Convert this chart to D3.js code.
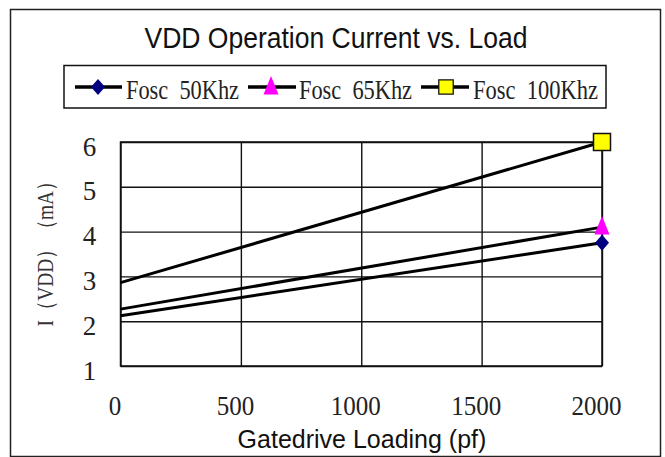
<!DOCTYPE html>
<html>
<head>
<meta charset="utf-8">
<script src="https://cdn.jsdelivr.net/npm/d3@7"></script>
<style>
  html, body { margin: 0; padding: 0; background: #fff; }
  svg { display: block; }
</style>
</head>
<body>
<svg id="chart" width="665" height="457"></svg>
<script>
// ---- data ----
const loads = [0, 2000];                 // Gatedrive loading (pf)
const fosc50 = [2.12, 3.75];             // I(VDD) mA, Fosc 50Khz
const fosc65 = [2.27, 4.10];             // I(VDD) mA, Fosc 65Khz
const fosc100 = [2.86, 6.00];            // I(VDD) mA, Fosc 100Khz
const seriesNames = ["Fosc  50Khz", "Fosc  65Khz", "Fosc  100Khz"];
const xTicks = [0, 500, 1000, 1500, 2000];
const yTicks = [1, 2, 3, 4, 5, 6];
const titleText = "VDD Operation Current vs. Load";
const xTitle = "Gatedrive Loading (pf)";
const yTitle = "I（VDD）（mA）";

// ---- layout ----
const svg = d3.select("#chart");
const L = 120.5, R = 602, T = 142, B = 366;
const x = d3.scaleLinear().domain([0, 2000]).range([L, R]);
const y = d3.scaleLinear().domain([1, 6]).range([B, T]);

svg.append("rect").attr("width", 665).attr("height", 457).attr("fill", "#fff");
// outer frame
svg.append("rect").attr("x", 10.5).attr("y", 9.5).attr("width", 650).attr("height", 447)
  .attr("fill", "none").attr("stroke", "#222").attr("stroke-width", 1.5);

// title
svg.append("text").attr("x", 336).attr("y", 47.5).attr("text-anchor", "middle")
  .attr("font-family", "Liberation Sans, Arial, sans-serif").attr("font-size", 30)
  .attr("textLength", 383).attr("lengthAdjust", "spacingAndGlyphs")
  .attr("fill", "#111").text(titleText);

// grid + axes
const yAxis = svg.append("g").attr("transform", `translate(${L},0)`)
  .call(d3.axisLeft(y).tickValues(yTicks).tickSize(-(R - L)).tickPadding(23).tickFormat(d3.format("d")));
yAxis.select(".domain").remove();
yAxis.selectAll("line").attr("stroke", "#111").attr("stroke-width", 1.4);
yAxis.selectAll("text").attr("font-family", "Liberation Serif, Times New Roman, serif")
  .attr("font-size", 27).attr("fill", "#222").attr("dy", 13).attr("text-anchor", "middle").attr("x", -31);

const xAxis = svg.append("g").attr("transform", `translate(0,${B})`)
  .call(d3.axisBottom(x).tickValues(xTicks).tickSize(-(B - T)).tickPadding(0).tickFormat(d3.format("d")));
xAxis.select(".domain").remove();
xAxis.selectAll("line").attr("stroke", "#111").attr("stroke-width", 1.4);
xAxis.selectAll("text").attr("font-family", "Liberation Serif, Times New Roman, serif")
  .attr("font-size", 27).attr("fill", "#222").attr("y", 49).attr("dy", 0).attr("dx", -6)
  .attr("textLength", d => String(d).length * 12.5).attr("lengthAdjust", "spacingAndGlyphs");

// plot frame
svg.append("rect").attr("x", L).attr("y", T).attr("width", R - L).attr("height", B - T)
  .attr("fill", "none").attr("stroke", "#111").attr("stroke-width", 1.5);

// axis titles
svg.append("text").attr("x", 362).attr("y", 448).attr("text-anchor", "middle")
  .attr("font-family", "Liberation Sans, Arial, sans-serif").attr("font-size", 25)
  .attr("fill", "#111").text(xTitle);
svg.append("text").attr("transform", "translate(53,249) rotate(-90)").attr("text-anchor", "middle")
  .attr("font-family", "Liberation Serif, Times New Roman, serif").attr("font-size", 23)
  .attr("textLength", 155).attr("lengthAdjust", "spacingAndGlyphs")
  .attr("fill", "#333").text(yTitle);

// markers
const markerPaths = {
  diamond: "M0,-8L7,0L0,8L-7,0Z",
  triangle: "M0,-11L7.5,7.5L-7.5,7.5Z",
  square: "M-8.5,-8.5H8.5V8.5H-8.5Z"
};
const series = [
  { name: seriesNames[0], values: fosc50, shape: "diamond", fill: "#000080", stroke: "none" },
  { name: seriesNames[1], values: fosc65, shape: "triangle", fill: "#ff00ff", stroke: "none" },
  { name: seriesNames[2], values: fosc100, shape: "square", fill: "#ffff00", stroke: "#111" }
];

const line = d3.line().x((d, i) => x(loads[i])).y(d => y(d));
series.forEach(s => {
  svg.append("path").attr("d", line(s.values)).attr("fill", "none")
    .attr("stroke", "#000").attr("stroke-width", 3);
});
series.forEach(s => {
  const last = s.values.length - 1;
  svg.append("path").attr("d", markerPaths[s.shape])
    .attr("transform", `translate(${x(loads[last])},${y(s.values[last])})`)
    .attr("fill", s.fill).attr("stroke", s.stroke).attr("stroke-width", 1.5);
});

// legend
svg.append("rect").attr("x", 64).attr("y", 65.5).attr("width", 542).attr("height", 42.5)
  .attr("fill", "#fff").attr("stroke", "#111").attr("stroke-width", 1.5);
const legendItems = [
  { x0: 75, x1: 122, mx: 98, tx: 126, tl: 113 },
  { x0: 248, x1: 296, mx: 271, tx: 299, tl: 113 },
  { x0: 421, x1: 469, mx: 446, tx: 473, tl: 125 }
];
const ly = 87;
series.forEach((s, i) => {
  const it = legendItems[i];
  svg.append("line").attr("x1", it.x0).attr("x2", it.x1).attr("y1", ly).attr("y2", ly)
    .attr("stroke", "#000").attr("stroke-width", 3.5);
  const sc = s.shape === "square" ? 0.85 : 1;
  svg.append("path").attr("d", markerPaths[s.shape])
    .attr("transform", `translate(${it.mx},${ly}) scale(${sc})`)
    .attr("fill", s.fill).attr("stroke", s.stroke).attr("stroke-width", 1.5);
  svg.append("text").attr("x", it.tx).attr("y", 98.5).attr("xml:space", "preserve")
    .style("white-space", "pre")
    .attr("font-family", "Liberation Serif, Times New Roman, serif").attr("font-size", 27)
    .attr("textLength", it.tl).attr("lengthAdjust", "spacingAndGlyphs")
    .attr("fill", "#222").text(s.name);
});
</script>
</body>
</html>
